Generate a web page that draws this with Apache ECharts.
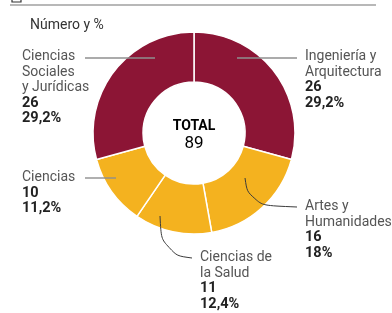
<!DOCTYPE html>
<html>
<head>
<meta charset="utf-8">
<script src="https://cdn.jsdelivr.net/npm/echarts@6/dist/echarts.min.js"></script>
<style>
  html, body { margin: 0; padding: 0; background: #fff; }
  #chart { width: 392px; height: 313px; }
</style>
</head>
<body>
<div id="chart"></div>
<script>
// Titulaciones por ramas de enseñanza (número y %)
const categories = [
  "Ingeniería y\nArquitectura",
  "Artes y\nHumanidades",
  "Ciencias de\nla Salud",
  "Ciencias",
  "Ciencias\nSociales\ny Jurídicas",
];
const values = [26, 16, 11, 10, 26];
const percentLabels = ["29,2%", "18%", "12,4%", "11,2%", "29,2%"];
const total = values.reduce((a, b) => a + b, 0);

// where each label sits (top-left) and its leader line, in px
const labelPos = [[305, 49], [305, 199], [200, 250], [22, 170], [22, 49]];
const guidePaths = [
  [[237, 58], [267, 58], [297, 58]],
  [[245, 178], [249, 205], [297, 207]],
  [[160, 216], [162, 254], [192, 258]],
  [[116, 178], [100, 178], [85, 178]],
  [[155, 58], [120, 58], [85, 58]],
];

const maroon = "#8c1535";
const yellow = "#f4b21f";
const sliceColors = [maroon, yellow, yellow, yellow, maroon];

const pieCenter = [194, 133];
const pieRadius = [51, 101];

let myChart = echarts.init(document.getElementById("chart"));

// coloured ring
let ringData = values.map((v, i) => ({
  name: categories[i],
  value: v,
  itemStyle: { color: sliceColors[i] },
}));

// same ring, transparent, drawn on top so the leader lines sit over the slices
let labelData = values.map((v, i) => {
  const curved = i === 1 || i === 2;
  return {
    name: categories[i],
    value: v,
    labelLine: {
      show: true,
      smooth: curved ? 0.5 : false,
      lineStyle: {
        color: curved ? "#3a3a3a" : "#8f8f8f",
        width: curved ? 1 : 1.4,
      },
    },
  };
});

let option = {
  animation: false,
  title: {
    text: "Número y %",
    left: 25,
    top: 13,
    textStyle: {
      fontFamily: "Roboto",
      fontSize: 14,
      fontWeight: "normal",
      color: "#333",
    },
  },
  graphic: [
    {
      type: "line",
      shape: { x1: 10, y1: 5, x2: 376, y2: 5 },
      style: { stroke: "#a0a0a0", lineWidth: 1.5 },
    },
    {
      type: "rect",
      shape: { x: 12, y: -8, width: 9, height: 10 },
      style: { fill: "none", stroke: "#333", lineWidth: 1.2 },
    },
    {
      type: "text",
      x: 36,
      y: -11,
      style: {
        text: "TITULACIONES POR RAMAS DE ENSEÑANZA",
        fontFamily: "Roboto",
        fontSize: 13,
        fontWeight: "bold",
        fill: "#333",
      },
    },
    {
      type: "text",
      x: 194,
      y: 135,
      style: {
        text: "{t|TOTAL}\n{n|" + total + "}",
        textAlign: "center",
        textVerticalAlign: "middle",
        rich: {
          t: { fontFamily: "Roboto", fontSize: 14, fontWeight: "bold", color: "#222", lineHeight: 18 },
          n: { fontFamily: "Roboto", fontSize: 17, color: "#333", lineHeight: 18 },
        },
      },
    },
  ],
  series: [
    {
      type: "pie",
      z: 2,
      center: pieCenter,
      radius: pieRadius,
      startAngle: 90,
      clockwise: true,
      silent: true,
      emphasis: { disabled: true },
      itemStyle: { borderColor: "#fff", borderWidth: 1.5 },
      label: { show: false },
      labelLine: { show: false },
      data: ringData,
    },
    {
      type: "pie",
      z: 3,
      center: pieCenter,
      radius: pieRadius,
      startAngle: 90,
      clockwise: true,
      silent: true,
      avoidLabelOverlap: false,
      emphasis: { disabled: true },
      itemStyle: { color: "rgba(0,0,0,0)", borderWidth: 0 },
      label: {
        show: true,
        position: "outside",
        formatter: (p) => "{n|" + p.name + "}\n{v|" + p.value + "}\n{v|" + percentLabels[p.dataIndex] + "}",
        rich: {
          n: { fontFamily: "Roboto", fontSize: 14, color: "#555", lineHeight: 15.5 },
          v: { fontFamily: "Roboto", fontSize: 14.5, fontWeight: "bold", color: "#222", lineHeight: 15.5 },
        },
      },
      labelLayout: function (params) {
        const i = params.dataIndex;
        return {
          x: labelPos[i][0],
          y: labelPos[i][1],
          align: "left",
          verticalAlign: "top",
          labelLinePoints: guidePaths[i],
        };
      },
      data: labelData,
    },
  ],
};
myChart.setOption(option, true);

window.addEventListener("resize", () => {
  myChart.resize();
});
</script>
</body>
</html>
